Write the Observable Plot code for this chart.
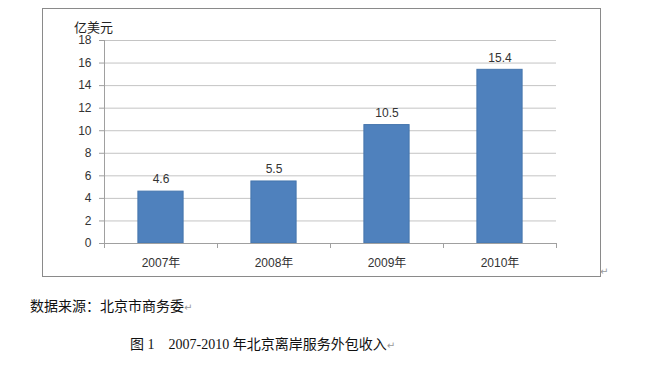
<!DOCTYPE html>
<html>
<head>
<meta charset="utf-8">
<script src="https://cdn.jsdelivr.net/npm/d3@7"></script>
<script src="https://cdn.jsdelivr.net/npm/@observablehq/plot@0.6"></script>
<style>
  html, body { margin: 0; padding: 0; background: #fff; }
  body { width: 653px; height: 366px; position: relative; overflow: hidden; }
  #box { position: absolute; left: 42px; top: 8px; width: 559px; height: 269px; box-sizing: border-box; border: 1px solid #8a8a8a; }
  #box svg { display: block; }
  .ret { color: #9a9a9a; font-size: 10px; font-family: "DejaVu Sans", sans-serif; }
  .cap { position: absolute; font-family: "Liberation Serif", "Noto Sans CJK SC", serif; font-size: 14px; color: #111; white-space: pre; }
</style>
</head>
<body>
<div id="box"></div>
<div class="ret" style="position:absolute;left:600px;top:266px;">↵</div>
<div class="cap" style="left:30px;top:295px;">数据来源：北京市商务委<span class="ret">↵</span></div>
<div class="cap" style="left:130px;top:333px;">图 1    2007-2010 年北京离岸服务外包收入<span class="ret">↵</span></div>
<script>
const years = ["2007年", "2008年", "2009年", "2010年"];
const values = [4.6, 5.5, 10.5, 15.4];
const yTicks = [0, 2, 4, 6, 8, 10, 12, 14, 16, 18];
const unitLabel = "亿美元";

const data = years.map((year, i) => ({year, i, value: values[i]}));

const W = 557, H = 267;
const mL = 61, mR = 44, mT = 31, mB = 33;
const bw = (W - mL - mR) / years.length;
const inset = bw * 0.3;
const font = "'Liberation Sans', 'Noto Sans CJK SC', sans-serif";

const chart = Plot.plot({
  width: W,
  height: H,
  marginLeft: mL,
  marginRight: mR,
  marginTop: mT,
  marginBottom: mB,
  style: {fontFamily: font, fontSize: "12px", color: "#333", background: "transparent"},
  x: {type: "linear", domain: [0, years.length]},
  y: {domain: [0, 18]},
  marks: [
    Plot.ruleY(yTicks.filter(d => d > 0), {stroke: "#c4c4c4", strokeWidth: 1}),
    Plot.axisY({ticks: yTicks, tickSize: 5, tickPadding: 8, stroke: "#a0a0a0", fill: "#333", label: null, fontSize: 12}),
    Plot.axisX({ticks: d3.range(years.length + 1), tickSize: 5, tickFormat: () => "", stroke: "#a0a0a0", label: null}),
    Plot.rectY(data, {x1: d => d.i, x2: d => d.i + 1, y: "value", insetLeft: inset, insetRight: inset, fill: "#4f81bd", stroke: "#4575ad", strokeWidth: 1}),
    Plot.ruleY([0], {stroke: "#a0a0a0"}),
    Plot.ruleX([0], {y1: 0, y2: 18, stroke: "#a0a0a0"}),
    Plot.text(data, {x: d => d.i + 0.5, y: "value", text: d => d.value.toFixed(1), dy: -12, fill: "#333", fontSize: 12}),
    Plot.text(data, {x: d => d.i + 0.5, y: 0, text: "year", dy: 20, fill: "#333", fontSize: 12}),
    Plot.text([unitLabel], {frameAnchor: "top-left", text: d => d, dx: -11, dy: -9, lineAnchor: "bottom", textAnchor: "middle", fontSize: 13, fill: "#222"})
  ]
});
document.getElementById("box").appendChild(chart);
</script>
</body>
</html>
